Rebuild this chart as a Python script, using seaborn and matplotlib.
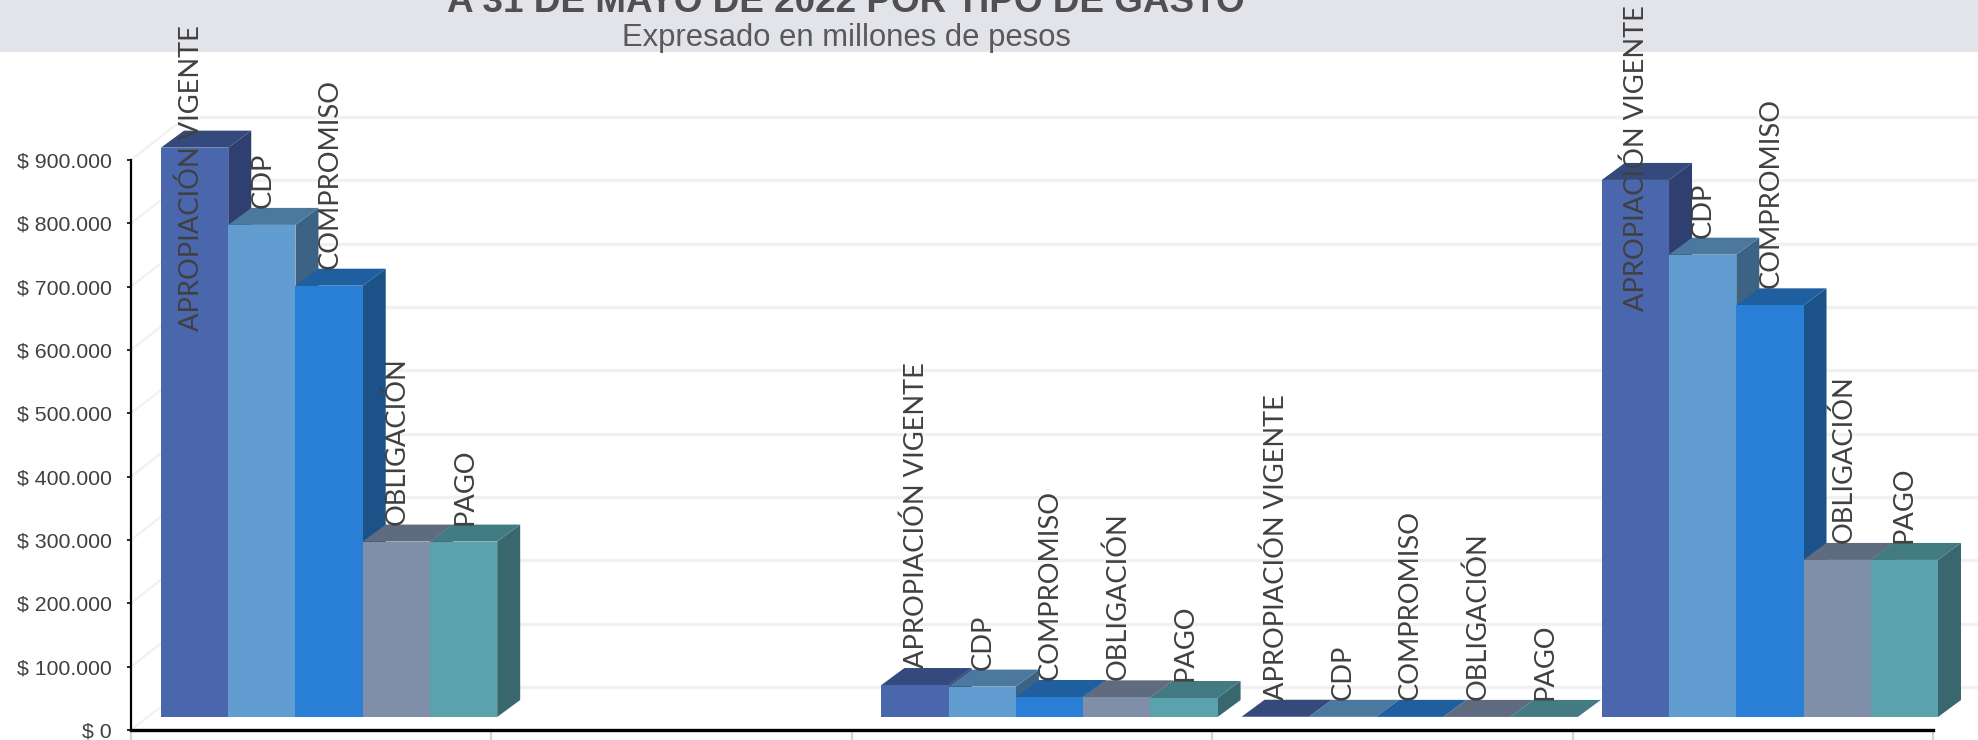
"""Ejecucion presupuestal por tipo de gasto, barras con efecto 3D"""
import math

import matplotlib
matplotlib.use('Agg')
import matplotlib.pyplot as plt
from matplotlib.patches import Polygon, Rectangle
import pandas as pd
import seaborn as sns

# data (millones de pesos), categoria 2 sin barras
categorias = ['Tipo 1', 'Tipo 2', 'Tipo 3', 'Tipo 4', 'Tipo 5']
etapas = ['APROPIACIÓN VIGENTE', 'CDP', 'COMPROMISO', 'OBLIGACIÓN', 'PAGO']
apropiacion = [899000, None, 50500, 400, 848000]
cdp = [777000, None, 48000, 300, 730000]
compromiso = [681000, None, 31600, 200, 650000]
obligacion = [277000, None, 31000, 150, 248000]
pago = [277000, None, 30000, 150, 248000]
ticks_y = [0, 100000, 200000, 300000, 400000, 500000, 600000, 700000, 800000, 900000]

# colors: front, top, side
frente = ['#4a66ac', '#629dd1', '#297fd5', '#7f8fa9', '#5aa2ae']
tapa = ['#354a7c', '#4a789f', '#1f5e9f', '#5f6c80', '#437b83']
lado = ['#2e3f70', '#3d6384', '#1b5288', '#525e70', '#3a676e']

W, H = 1978, 740
PX_Y = 570 / 900000  # px per peso


def place(fig, left, top, right, bottom):
    return fig.add_axes([left / W, 1 - bottom / H, (right - left) / W, (bottom - top) / H])


def main():
    sns.set_style('white')
    plt.rcParams['font.family'] = ['Liberation Sans', 'DejaVu Sans']
    fig = plt.figure(figsize=(W / 100, H / 100), dpi=100)
    fig.patches.append(Rectangle((0, 1 - 52 / H), 1, 52 / H, transform=fig.transFigure,
                                 facecolor='#e2e4e9', edgecolor='none', zorder=-1))

    fig.text(846 / W, 1 - 12 / H, 'A 31 DE MAYO DE 2022 POR TIPO DE GASTO', ha='center',
             va='baseline', fontsize=26.6, fontweight='bold', color='#505050')
    fig.text(846 / W, 1 - 46 / H, 'Expresado en millones de pesos', ha='center',
             va='baseline', fontsize=22.3, color='#595959')

    # frame axes: walls, gridlines, ticks
    ax = place(fig, 131, 160, 1933, 730)
    ax.set_xlim(0, 5)
    ax.set_ylim(0, 900000)
    ax.patch.set_alpha(0)
    dx_wall = 55 / 360.4
    dy_wall = 43 / PX_Y
    x_end = (W - 131) / 360.4
    for t in ticks_y:
        ax.plot([dx_wall, x_end], [t + dy_wall, t + dy_wall], color='#f1f1f1', lw=2.4,
                clip_on=False, zorder=1)
        ax.plot([0, dx_wall], [t, t + dy_wall], color='#f1f1f1', lw=1.6, clip_on=False, zorder=1)
    sns.despine(ax=ax, top=True, right=True)
    ax.spines['left'].set_linewidth(1.6)
    ax.spines['left'].set_color('black')
    ax.spines['bottom'].set_linewidth(2.4)
    ax.spines['bottom'].set_color('black')
    ax.set_yticks(ticks_y)
    ax.set_yticklabels(['$ ' + f'{t:,}'.replace(',', '.') for t in ticks_y],
                       fontsize=15.3, color='#404040')
    ax.tick_params(axis='y', left=True, length=3, width=1.2, color='black', pad=11)
    ax.set_xticks(range(6))
    ax.set_xticklabels([])
    ax.tick_params(axis='x', bottom=True, length=8, width=1.6, color='#d4d4d4')

    # bars axes: front faces sit above the axis
    df = pd.DataFrame({
        'categoria': categorias * 5,
        'etapa': [e for e in etapas for _ in categorias],
        'valor': apropiacion + cdp + compromiso + obligacion + pago,
    }).dropna()
    bx = place(fig, 149, 147, 1950, 717)
    sns.barplot(data=df, x='categoria', y='valor', hue='etapa', order=categorias, hue_order=etapas,
                palette=frente, width=336 / 360, gap=0, saturation=1, errorbar=None,
                legend=False, ax=bx)
    bx.set_xlim(-0.5, 4.5)
    bx.set_ylim(0, 900000)
    bx.axis('off')
    bx.patch.set_alpha(0)

    dx = 23 / 360.2
    dy = 17 / PX_Y
    limite = {0: 25, 4: 5}  # first label pushed down by the canvas top
    ajuste = {(0, 0): -4, (4, 3): 6, (4, 4): -1}  # labels off the bar center, px
    for j, cont in enumerate(bx.containers):
        for bar in cont:
            h = bar.get_height()
            if math.isnan(h):
                continue
            x0, x1 = bar.get_x(), bar.get_x() + bar.get_width()
            bar.set_zorder(20)
            bar.set_linewidth(0)
            bx.add_patch(Polygon([(x1, 0), (x1 + dx, dy), (x1 + dx, h + dy), (x1, h)],
                                 facecolor=lado[j], edgecolor='none', clip_on=False, zorder=2 + j))
            bx.add_patch(Polygon([(x0, h), (x0 + dx, h + dy), (x1 + dx, h + dy), (x1, h)],
                                 facecolor=tapa[j], edgecolor='none', clip_on=False, zorder=2 + j))
            xc = (x0 + x1) / 2
            cat = round(xc)
            xt = xc + (1 + ajuste.get((cat, j), 0)) / 360.2
            if j == 0 and cat in limite:
                bx.text(xt, (717 - limite[cat]) / PX_Y, etapas[j], rotation=90, ha='center',
                        va='top', fontsize=19.6, family='Lato', color='#404040', zorder=30)
            else:
                bx.text(xt, h + dy, etapas[j], rotation=90, ha='center', va='bottom',
                        fontsize=19.6, family='Lato', color='#404040', zorder=30)

    fig.savefig('out.png', dpi=100)


if __name__ == '__main__':
    main()
